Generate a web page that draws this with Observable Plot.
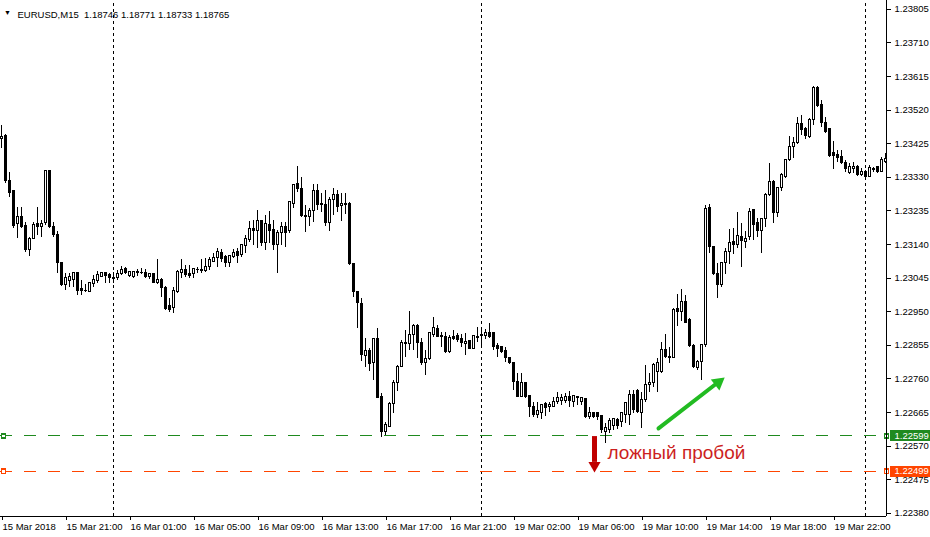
<!DOCTYPE html>
<html><head><meta charset="utf-8">
<script src="https://cdn.jsdelivr.net/npm/d3@7"></script>
<script src="https://cdn.jsdelivr.net/npm/@observablehq/plot@0.6"></script>
<style>
html,body{margin:0;padding:0;background:#fff;}
#chart svg{display:block;}
</style>
</head><body><div id="chart"></div>
<script>
const symbolLabel = "EURUSD,M15";
const headerQuotes = [1.18746, 1.18771, 1.18733, 1.18765];

const opens = [1.23437,1.23446,1.23321,1.23290,1.23197,1.23217,1.23191,1.23124,1.23157,1.23197,
1.23189,1.23200,1.23347,1.23189,1.23166,1.23087,1.23025,1.23036,1.23039,1.23059,
1.23013,1.23010,1.23005,1.23027,1.23036,1.23047,1.23059,1.23053,1.23044,1.23044,
1.23056,1.23070,1.23050,1.23047,1.23059,1.23059,1.23059,1.23047,1.23056,1.23030,
1.23039,1.23016,1.22965,1.22960,1.23005,1.23059,1.23067,1.23056,1.23056,1.23067,
1.23067,1.23064,1.23076,1.23092,1.23101,1.23115,1.23104,1.23087,1.23104,1.23118,
1.23109,1.23135,1.23152,1.23183,1.23177,1.23206,1.23143,1.23194,1.23180,1.23138,
1.23172,1.23189,1.23177,1.23256,1.23310,1.23296,1.23222,1.23217,1.23234,1.23290,
1.23254,1.23251,1.23200,1.23265,1.23279,1.23248,1.23254,1.23256,1.23084,1.23005,
1.22971,1.22824,1.22838,1.22804,1.22872,1.22708,1.22609,1.22623,1.22688,1.22748,
1.22793,1.22861,1.22858,1.22883,1.22909,1.22861,1.22804,1.22815,1.22883,1.22900,
1.22880,1.22878,1.22835,1.22878,1.22880,1.22872,1.22858,1.22866,1.22846,1.22878,
1.22883,1.22880,1.22889,1.22889,1.22852,1.22849,1.22838,1.22818,1.22804,1.22750,
1.22708,1.22748,1.22711,1.22682,1.22657,1.22663,1.22688,1.22680,1.22682,1.22694,
1.22697,1.22697,1.22708,1.22694,1.22708,1.22694,1.22702,1.22651,1.22663,1.22663,
1.22654,1.22609,1.22615,1.22626,1.22643,1.22637,1.22657,1.22657,1.22714,1.22725,
1.22663,1.22699,1.22742,1.22748,1.22779,1.22779,1.22841,1.22821,1.22818,1.22957,
1.22948,1.22977,1.22926,1.22852,1.22790,1.22807,1.22855,1.23242,1.23132,1.23056,
1.23025,1.23087,1.23118,1.23146,1.23140,1.23160,1.23146,1.23160,1.23237,1.23200,
1.23177,1.23211,1.23279,1.23316,1.23228,1.23299,1.23330,1.23378,1.23415,1.23426,
1.23480,1.23466,1.23443,1.23491,1.23582,1.23534,1.23485,1.23466,1.23398,1.23392,
1.23387,1.23370,1.23341,1.23353,1.23358,1.23336,1.23344,1.23330,1.23353,1.23358,
1.23344,1.23372];

const highs = [1.23477,1.23451,1.23344,1.23293,1.23245,1.23245,1.23203,1.23160,1.23203,1.23245,
1.23208,1.23350,1.23350,1.23203,1.23177,1.23090,1.23059,1.23059,1.23061,1.23061,
1.23039,1.23027,1.23030,1.23053,1.23064,1.23061,1.23061,1.23059,1.23061,1.23067,
1.23078,1.23076,1.23061,1.23064,1.23070,1.23073,1.23070,1.23059,1.23059,1.23098,
1.23044,1.23022,1.22988,1.23019,1.23067,1.23098,1.23081,1.23081,1.23073,1.23076,
1.23098,1.23101,1.23104,1.23115,1.23129,1.23126,1.23109,1.23109,1.23126,1.23129,
1.23140,1.23166,1.23206,1.23208,1.23237,1.23208,1.23222,1.23234,1.23208,1.23180,
1.23203,1.23203,1.23262,1.23310,1.23361,1.23330,1.23251,1.23242,1.23310,1.23310,
1.23285,1.23293,1.23273,1.23299,1.23293,1.23285,1.23285,1.23259,1.23087,1.23008,
1.22988,1.22875,1.22846,1.22875,1.22903,1.22719,1.22637,1.22694,1.22756,1.22798,
1.22869,1.22897,1.22951,1.22914,1.22914,1.22875,1.22841,1.22892,1.22934,1.22911,
1.22892,1.22892,1.22883,1.22897,1.22889,1.22886,1.22889,1.22869,1.22883,1.22906,
1.22900,1.22900,1.22917,1.22892,1.22861,1.22852,1.22849,1.22821,1.22806,1.22776,
1.22776,1.22750,1.22714,1.22694,1.22694,1.22688,1.22694,1.22694,1.22708,1.22722,
1.22716,1.22719,1.22725,1.22714,1.22711,1.22708,1.22705,1.22680,1.22666,1.22666,
1.22657,1.22634,1.22649,1.22649,1.22649,1.22666,1.22694,1.22728,1.22728,1.22731,
1.22722,1.22798,1.22776,1.22804,1.22818,1.22863,1.22886,1.22849,1.22960,1.22999,
1.23013,1.22996,1.22931,1.22858,1.22813,1.22858,1.23251,1.23254,1.23135,1.23087,
1.23090,1.23129,1.23183,1.23186,1.23231,1.23200,1.23177,1.23242,1.23240,1.23214,
1.23214,1.23285,1.23370,1.23321,1.23302,1.23341,1.23380,1.23446,1.23443,1.23500,
1.23505,1.23471,1.23497,1.23587,1.23587,1.23548,1.23500,1.23469,1.23432,1.23406,
1.23406,1.23378,1.23370,1.23372,1.23364,1.23355,1.23350,1.23364,1.23358,1.23361,
1.23386,1.23398];

const lows = [1.23412,1.23313,1.23273,1.23186,1.23157,1.23186,1.23118,1.23107,1.23155,1.23166,
1.23160,1.23194,1.23186,1.23160,1.23058,1.23022,1.23010,1.23019,1.23019,1.22996,
1.22996,1.23005,1.23005,1.23019,1.23030,1.23047,1.23030,1.23030,1.23030,1.23039,
1.23053,1.23056,1.23047,1.23044,1.23050,1.23056,1.23044,1.23042,1.23030,1.23027,
1.22991,1.22954,1.22948,1.22945,1.23002,1.23044,1.23047,1.23044,1.23044,1.23059,
1.23059,1.23061,1.23067,1.23090,1.23076,1.23090,1.23076,1.23076,1.23101,1.23087,
1.23104,1.23115,1.23146,1.23138,1.23129,1.23135,1.23124,1.23143,1.23124,1.23059,
1.23138,1.23132,1.23172,1.23242,1.23288,1.23217,1.23174,1.23191,1.23203,1.23237,
1.23231,1.23191,1.23177,1.23222,1.23231,1.23206,1.23225,1.23081,1.22991,1.22903,
1.22810,1.22793,1.22781,1.22756,1.22705,1.22595,1.22600,1.22623,1.22663,1.22725,
1.22793,1.22821,1.22841,1.22841,1.22818,1.22798,1.22770,1.22813,1.22878,1.22877,
1.22849,1.22832,1.22832,1.22869,1.22863,1.22849,1.22827,1.22844,1.22844,1.22863,
1.22855,1.22872,1.22875,1.22841,1.22821,1.22832,1.22807,1.22801,1.22728,1.22707,
1.22707,1.22705,1.22651,1.22651,1.22649,1.22646,1.22654,1.22666,1.22681,1.22688,
1.22685,1.22691,1.22680,1.22680,1.22685,1.22685,1.22649,1.22646,1.22649,1.22643,
1.22606,1.22578,1.22606,1.22615,1.22617,1.22623,1.22634,1.22629,1.22663,1.22663,
1.22620,1.22694,1.22722,1.22736,1.22722,1.22776,1.22818,1.22804,1.22817,1.22909,
1.22923,1.22916,1.22849,1.22790,1.22784,1.22756,1.22849,1.23115,1.23053,1.22988,
1.23019,1.23056,1.23084,1.23112,1.23129,1.23076,1.23129,1.23152,1.23152,1.23160,
1.23115,1.23189,1.23276,1.23200,1.23217,1.23290,1.23327,1.23375,1.23384,1.23423,
1.23449,1.23437,1.23440,1.23477,1.23528,1.23471,1.23454,1.23387,1.23353,1.23372,
1.23367,1.23344,1.23338,1.23341,1.23333,1.23333,1.23321,1.23329,1.23344,1.23341,
1.23343,1.23370];

const closes = [1.23443,1.23321,1.23287,1.23191,1.23217,1.23189,1.23124,1.23157,1.23194,1.23189,
1.23197,1.23347,1.23189,1.23166,1.23087,1.23025,1.23044,1.23047,1.23059,1.23010,
1.23010,1.23008,1.23030,1.23039,1.23053,1.23059,1.23050,1.23044,1.23042,1.23056,
1.23067,1.23059,1.23061,1.23061,1.23061,1.23060,1.23047,1.23056,1.23030,1.23039,
1.23016,1.22957,1.22954,1.23008,1.23061,1.23067,1.23053,1.23050,1.23070,1.23068,
1.23064,1.23076,1.23095,1.23101,1.23118,1.23098,1.23087,1.23107,1.23115,1.23107,
1.23138,1.23155,1.23183,1.23177,1.23206,1.23143,1.23197,1.23177,1.23138,1.23172,
1.23189,1.23174,1.23259,1.23307,1.23296,1.23222,1.23217,1.23234,1.23290,1.23251,
1.23251,1.23200,1.23267,1.23279,1.23245,1.23254,1.23253,1.23084,1.23005,1.22974,
1.22827,1.22838,1.22801,1.22872,1.22706,1.22609,1.22629,1.22688,1.22748,1.22793,
1.22861,1.22858,1.22883,1.22911,1.22861,1.22804,1.22815,1.22889,1.22903,1.22878,
1.22878,1.22835,1.22875,1.22872,1.22869,1.22861,1.22863,1.22846,1.22880,1.22877,
1.22882,1.22889,1.22878,1.22849,1.22846,1.22835,1.22818,1.22804,1.22750,1.22708,
1.22748,1.22708,1.22682,1.22657,1.22668,1.22685,1.22677,1.22685,1.22694,1.22705,
1.22705,1.22708,1.22697,1.22711,1.22705,1.22705,1.22651,1.22663,1.22651,1.22651,
1.22615,1.22620,1.22640,1.22646,1.22626,1.22663,1.22691,1.22714,1.22671,1.22666,
1.22699,1.22742,1.22748,1.22798,1.22804,1.22841,1.22821,1.22818,1.22954,1.22948,
1.22977,1.22917,1.22852,1.22793,1.22807,1.22855,1.23240,1.23132,1.23056,1.23025,
1.23087,1.23118,1.23143,1.23140,1.23163,1.23149,1.23155,1.23231,1.23194,1.23177,
1.23211,1.23279,1.23316,1.23228,1.23299,1.23336,1.23378,1.23415,1.23426,1.23480,
1.23463,1.23446,1.23491,1.23582,1.23531,1.23485,1.23457,1.23389,1.23389,1.23384,
1.23370,1.23353,1.23358,1.23358,1.23336,1.23344,1.23330,1.23355,1.23352,1.23344,
1.23378,1.23381];

// time axis: bar index of each label, and its text
const timeTickBars = [0,16,32,48,64,80,96,112,128,144,160,176,192,208];
const timeTickLabels = ["15 Mar 2018","15 Mar 21:00","16 Mar 01:00","16 Mar 05:00","16 Mar 09:00",
  "16 Mar 13:00","16 Mar 17:00","16 Mar 21:00","19 Mar 02:00","19 Mar 06:00","19 Mar 10:00",
  "19 Mar 14:00","19 Mar 18:00","19 Mar 22:00"];
const daySeparatorBars = [28, 120, 216];
const priceTicks = [1.23805,1.23710,1.23615,1.23520,1.23425,1.23330,1.23235,1.23140,
  1.23045,1.22950,1.22855,1.22760,1.22665,1.22570,1.22475,1.22380];

const levelPrices = [1.22599, 1.22499];
const levelColors = ["#1f8a1f", "#ff4500"];

const noteText = "ложный пробой";
const noteBar = 151.5, notePrice = 1.22552;
const redArrowBar = 148.25, redArrowFrom = 1.22597, redArrowTo = 1.22524, redArrowHead = 1.22515;
const greenArrowBars = [164.25, 178.75], greenArrowPrices = [1.22620, 1.22747];
const greenHeadBar = 179.2, greenHeadPrice = 1.22750;

const bars = opens.map((o, i) => ({i, open: o, high: highs[i], low: lows[i], close: closes[i]}));
const levels = levelPrices.map((p, k) => ({price: p, color: levelColors[k]}));
const xMin = -0.25, xMax = bars.length - 0.75;
const yMin = 1.22371, yMax = 1.23830;
const font = "'Liberation Sans', Arial, sans-serif";
const fs = 9.5;
const crisp = {shapeRendering: "crispEdges"};
const headerText = "EURUSD,M15\u00a0\u00a0" + headerQuotes.map(d => d.toFixed(5)).join(" ");

const chart = Plot.plot({
  width: 930, height: 537,
  marginTop: 0, marginRight: 44, marginBottom: 21, marginLeft: 0,
  style: {fontFamily: font, fontSize: fs + "px", background: "#fff", color: "#000", overflow: "visible"},
  x: {domain: [xMin, xMax], axis: null},
  y: {domain: [yMin, yMax], axis: null},
  marks: [
    Plot.ruleX(daySeparatorBars, {x: d => d, y1: yMin, y2: yMax, stroke: "#000", strokeDasharray: "3,3", ...crisp}),
    Plot.ruleY(levels, {y: "price", stroke: "color", strokeDasharray: "12,12", ...crisp}),
    Plot.dot(levels, {x: () => 0.5, y: "price", symbol: "square", r: 2.3, fill: "#fff", stroke: "color", ...crisp}),
    Plot.dot(levels, {x: () => xMax, y: "price", symbol: "square", r: 2.3, fill: "#fff", stroke: "color", ...crisp}),
    Plot.ruleX(bars, {x: "i", y1: "low", y2: "high", stroke: "#000", ...crisp}),
    Plot.rect(bars, {
      x1: d => d.i - 0.375, x2: d => d.i + 0.375,
      y1: "open", y2: d => d.close === d.open ? d.close + 0.000004 : d.close,
      insetLeft: 0.5, insetRight: 0.5,
      fill: d => d.close > d.open ? "#fff" : "#000", stroke: "#000", ...crisp
    }),
    Plot.ruleX([xMax], {stroke: "#000", ...crisp}),
    Plot.ruleY([yMin], {stroke: "#000", ...crisp}),
    Plot.axisY(priceTicks, {anchor: "right", tickSize: 4, tickPadding: 4, fontSize: fs,
      tickFormat: d => d.toFixed(5), ...crisp}),
    Plot.axisX(timeTickBars, {anchor: "bottom", tickSize: 4, tickPadding: 3, fontSize: fs,
      textAnchor: "start", dx: 1, tickFormat: d => timeTickLabels[timeTickBars.indexOf(d)], ...crisp}),
    Plot.ruleY(levels, {y: "price", x1: xMax + 1, x2: xMax + 11, stroke: "color", strokeWidth: 11, ...crisp}),
    Plot.text(levels, {x: xMax + 2, y: "price", text: d => d.price.toFixed(5), fill: "#fff",
      textAnchor: "start", fontSize: fs}),
    Plot.text(["\u25BC"], {frameAnchor: "top-left", dx: 7, dy: 10, fontSize: 7, textAnchor: "middle"}),
    Plot.text([headerText], {frameAnchor: "top-left", dx: 17, dy: 10.5, textAnchor: "start", fontSize: fs}),
    Plot.ruleX([redArrowBar], {x: d => d, y1: redArrowFrom, y2: redArrowTo, stroke: "#c00000", strokeWidth: 5}),
    Plot.dot([redArrowBar], {x: d => d, y: redArrowHead, symbol: "triangle", r: 4.5, rotate: 180, fill: "#c00000", stroke: null}),
    Plot.line(greenArrowBars.map((b, k) => ({bar: b, price: greenArrowPrices[k]})),
      {x: "bar", y: "price", stroke: "#22bb22", strokeWidth: 4}),
    Plot.dot([greenHeadBar], {x: d => d, y: greenHeadPrice, symbol: "triangle", r: 5.2, rotate: 52, fill: "#22bb22", stroke: null}),
    Plot.text([noteText], {x: noteBar, y: notePrice, text: d => d, fill: "#cc1f1f",
      fontSize: 19, textAnchor: "start", fontFamily: font})
  ]
});
document.getElementById("chart").appendChild(chart);
</script>
</body></html>
